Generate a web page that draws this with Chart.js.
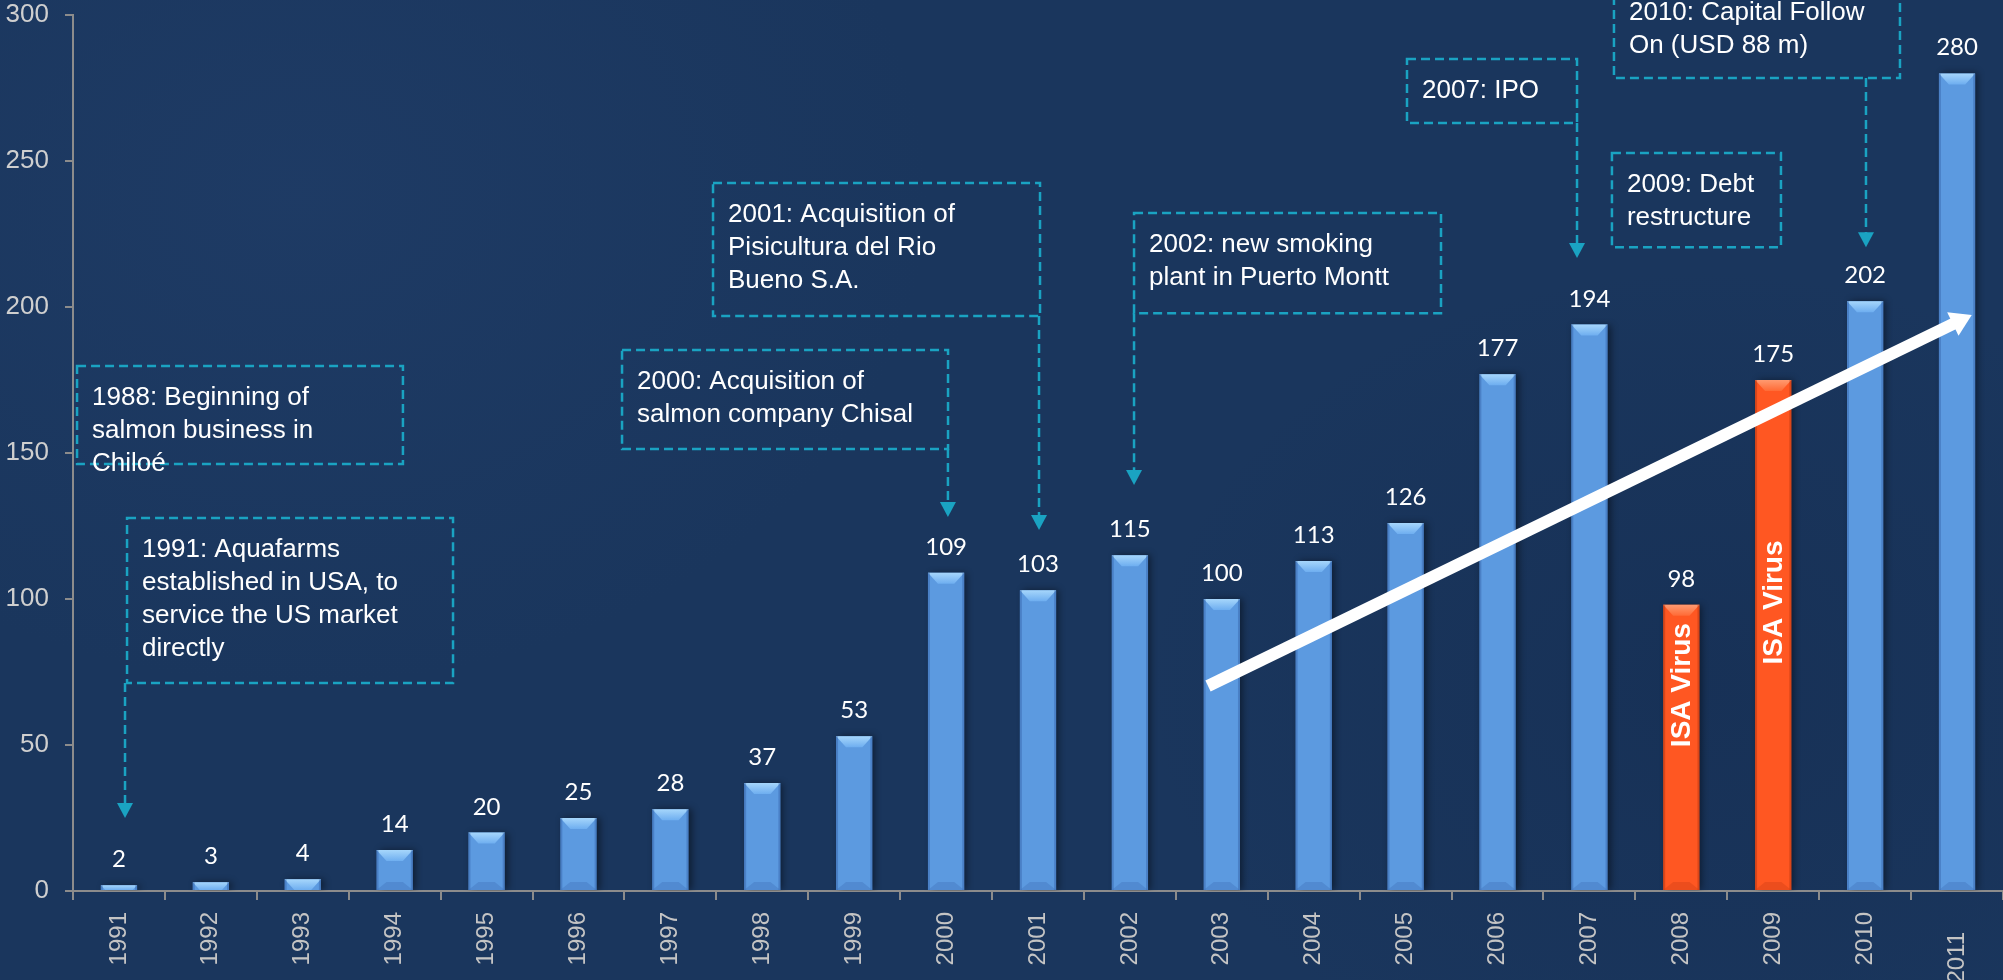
<!DOCTYPE html>
<html><head><meta charset="utf-8">
<script src="https://cdn.jsdelivr.net/npm/chart.js@4.4.1/dist/chart.umd.min.js"></script>
<style>
html,body{margin:0;padding:0;overflow:hidden;background:#1a365d}
#wrap{position:relative;width:2003px;height:980px;
background:
 radial-gradient(ellipse 900px 700px at 15% 20%, rgba(36,66,112,0.4), rgba(26,54,93,0) 70%),
 radial-gradient(ellipse 800px 600px at 85% 70%, rgba(18,40,75,0.35), rgba(26,54,93,0) 70%),
 #1a365d;}
canvas{display:block}
</style></head>
<body><div id="wrap"><canvas id="c" width="2003" height="980"></canvas></div>
<script>
// ---- data ----
const years = ['1991','1992','1993','1994','1995','1996','1997','1998','1999','2000','2001','2002','2003','2004','2005','2006','2007','2008','2009','2010','2011'];
const values = [2,3,4,14,20,25,28,37,53,109,103,115,100,113,126,177,194,98,175,202,280];
const isaYears = ['2008','2009'];
const isaText = 'ISA Virus';
const yTicks = [0,50,100,150,200,250,300];
const milestoneText = [
  ['1988: Beginning of','salmon business in','Chiloé'],
  ['1991: Aquafarms','established in USA, to','service the US market','directly'],
  ['2000: Acquisition of','salmon company Chisal'],
  ['2001: Acquisition of','Pisicultura del Rio','Bueno S.A.'],
  ['2002: new smoking','plant in Puerto Montt'],
  ['2007: IPO'],
  ['2009: Debt','restructure'],
  ['2010: Capital Follow','On (USD 88 m)']
];

// ---- layout of annotations (x in category-index units, y in value units) ----
const milestoneLayout = [
  {l:-0.456,r:3.090,t:179.8,b:146.2},
  {l:0.088,r:3.635,t:127.7,b:71.2, ax:0.066, tip:25.0},
  {l:5.474,r:9.021,t:185.3,b:151.4, ax:9.02, tip:128.1},
  {l:6.464,r:10.022,t:242.5,b:196.9, ax:10.011, tip:123.6},
  {l:11.045,r:14.385,t:232.2,b:197.9, ax:11.045, tip:139.0},
  {l:14.015,r:15.865,t:284.9,b:263.0, ax:15.865, tip:216.8},
  {l:16.245,r:18.084,t:252.7,b:220.5},
  {l:16.267,r:19.379,t:311.6,b:278.4, ax:19.009, tip:220.5}
];
const isaLayout = {'2008':70.5,'2009':98.8};
const trendLayout = {x0:11.85,y0:70.2,x1:20.16,y1:197.3};

const BLUE='#5c9ae0', ORANGE='#ff5722', TEAL='#1aa3c2';
const barColors = years.map(y => isaYears.includes(y) ? ORANGE : BLUE);

function X(chart, xi){const s=chart.scales.x;const p0=s.getPixelForValue(0),p1=s.getPixelForValue(1);return p0+xi*(p1-p0);}
function Y(chart, v){return chart.scales.y.getPixelForValue(v);}

const shadowPlugin = {
  id:'shadow',
  beforeDatasetsDraw(chart){const c=chart.ctx;c.save();c.shadowColor='rgba(0,0,0,0.45)';c.shadowBlur=7;c.shadowOffsetX=3;c.shadowOffsetY=0;},
  afterDatasetsDraw(chart){chart.ctx.restore();}
};

const bevelPlugin = {
  id:'bevel',
  afterDatasetsDraw(chart){
    const c=chart.ctx; const meta=chart.getDatasetMeta(0);
    meta.data.forEach((el,i)=>{
      const p=el.getProps(['x','y','base','width'],true);
      const L=p.x-p.width/2, R=p.x+p.width/2, T=p.y, B=p.base, h=B-T;
      const isa=isaYears.includes(years[i]);
      const bev=Math.min(11,h);
      const inset=Math.min(10,p.width/2-2)*(bev/11);
      c.save();
      const g=c.createLinearGradient(0,T,0,T+bev);
      if(isa){g.addColorStop(0,'#ff9a70');g.addColorStop(1,'#ff6a35');}
      else{g.addColorStop(0,'#a6d6fb');g.addColorStop(1,'#6eaef0');}
      c.fillStyle=g;
      c.beginPath();c.moveTo(L,T);c.lineTo(R,T);c.lineTo(R-inset,T+bev);c.lineTo(L+inset,T+bev);c.closePath();c.fill();
      c.fillStyle=isa?'rgba(150,40,10,0.35)':'rgba(40,80,150,0.35)';
      c.fillRect(L,T,2,h);c.fillRect(R-2,T,2,h);
      if(h>14){
        c.fillStyle=isa?'rgba(200,60,20,0.35)':'rgba(60,110,180,0.35)';
        c.beginPath();c.moveTo(L,B);c.lineTo(R,B);c.lineTo(R-10,B-8);c.lineTo(L+10,B-8);c.closePath();c.fill();
      }
      c.restore();
      c.save();c.fillStyle='#ffffff';c.font='24px Lato';c.textAlign='center';c.textBaseline='alphabetic';
      c.fillText(String(values[i]),p.x,T-18);c.restore();
      if(isa){
        c.save();c.translate(p.x,Y(chart,isaLayout[years[i]]));c.rotate(-Math.PI/2);
        c.fillStyle='#ffffff';c.font='bold 28px "Liberation Sans", Arial';c.textAlign='center';c.textBaseline='middle';
        c.fillText(isaText,0,1);c.restore();
      }
    });
  }
};

const annotPlugin = {
  id:'annot',
  afterDraw(chart){
    const c=chart.ctx;
    const sx=X(chart,trendLayout.x0), sy=Y(chart,trendLayout.y0), ex=X(chart,trendLayout.x1), ey=Y(chart,trendLayout.y1);
    const dx=ex-sx, dy=ey-sy, len=Math.hypot(dx,dy), ux=dx/len, uy=dy/len, nx=-uy, ny=ux;
    c.save();c.strokeStyle='#ffffff';c.fillStyle='#ffffff';c.lineWidth=12;c.lineCap='butt';
    c.beginPath();c.moveTo(sx,sy);c.lineTo(ex-ux*16,ey-uy*16);c.stroke();
    c.beginPath();c.moveTo(ex,ey);c.lineTo(ex-ux*21+nx*13,ey-uy*21+ny*13);c.lineTo(ex-ux*21-nx*13,ey-uy*21-ny*13);c.closePath();c.fill();
    c.restore();
    milestoneLayout.forEach((m,k)=>{
      const l=X(chart,m.l), r=X(chart,m.r), t=Y(chart,m.t), b=Y(chart,m.b);
      c.save();
      c.strokeStyle=TEAL;c.lineWidth=2.5;c.setLineDash([9,5]);
      c.strokeRect(l,t,r-l,b-t);
      if(m.ax!==undefined){
        const axp=X(chart,m.ax), tp=Y(chart,m.tip);
        c.beginPath();c.moveTo(axp,b);c.lineTo(axp,tp-14);c.stroke();
        c.setLineDash([]);c.fillStyle=TEAL;
        c.beginPath();c.moveTo(axp,tp);c.lineTo(axp-8,tp-15);c.lineTo(axp+8,tp-15);c.closePath();c.fill();
      }
      c.setLineDash([]);
      c.fillStyle='#ffffff';c.font='26px "Liberation Sans", Arial';c.textAlign='left';c.textBaseline='middle';
      milestoneText[k].forEach((line,j)=>{c.fillText(line,l+15,t+32+j*33);});
      c.restore();
    });
  }
};

new Chart(document.getElementById('c'),{
  type:'bar',
  data:{labels:years,datasets:[{data:values,backgroundColor:barColors,borderWidth:0,categoryPercentage:1.0,barPercentage:0.395}]},
  options:{
    responsive:false,animation:false,devicePixelRatio:1,
    layout:{padding:{top:15,left:0,right:0,bottom:0}},
    plugins:{legend:{display:false},tooltip:{enabled:false}},
    scales:{
      x:{
        afterFit(s){s.height=89;s.paddingLeft=0;s.paddingRight=0;},
        grid:{display:true,drawOnChartArea:false,drawTicks:true,tickLength:9,tickColor:'#8c8c8c',offset:true,lineWidth:2},
        border:{display:true,color:'#8c8c8c',width:2},
        ticks:{color:'#c4c4c4',font:{family:'"Liberation Sans", Arial',size:24},minRotation:90,maxRotation:90,autoSkip:false,padding:12,
          callback(v,i){return i===years.length-1 ? years[i]+'   ' : years[i];}}
      },
      y:{
        min:0,max:300,
        afterFit(s){s.width=73;s.paddingTop=0;s.paddingBottom=0;},
        afterBuildTicks(s){s.ticks=yTicks.map(v=>({value:v}));},
        grid:{display:true,drawOnChartArea:false,drawTicks:true,tickLength:8,tickColor:'#8c8c8c',lineWidth:2},
        border:{display:true,color:'#8c8c8c',width:2},
        ticks:{color:'#cfcfcf',font:{family:'"Liberation Sans", Arial',size:26},padding:16}
      }
    }
  },
  plugins:[shadowPlugin,bevelPlugin,annotPlugin]
});
</script></body></html>
